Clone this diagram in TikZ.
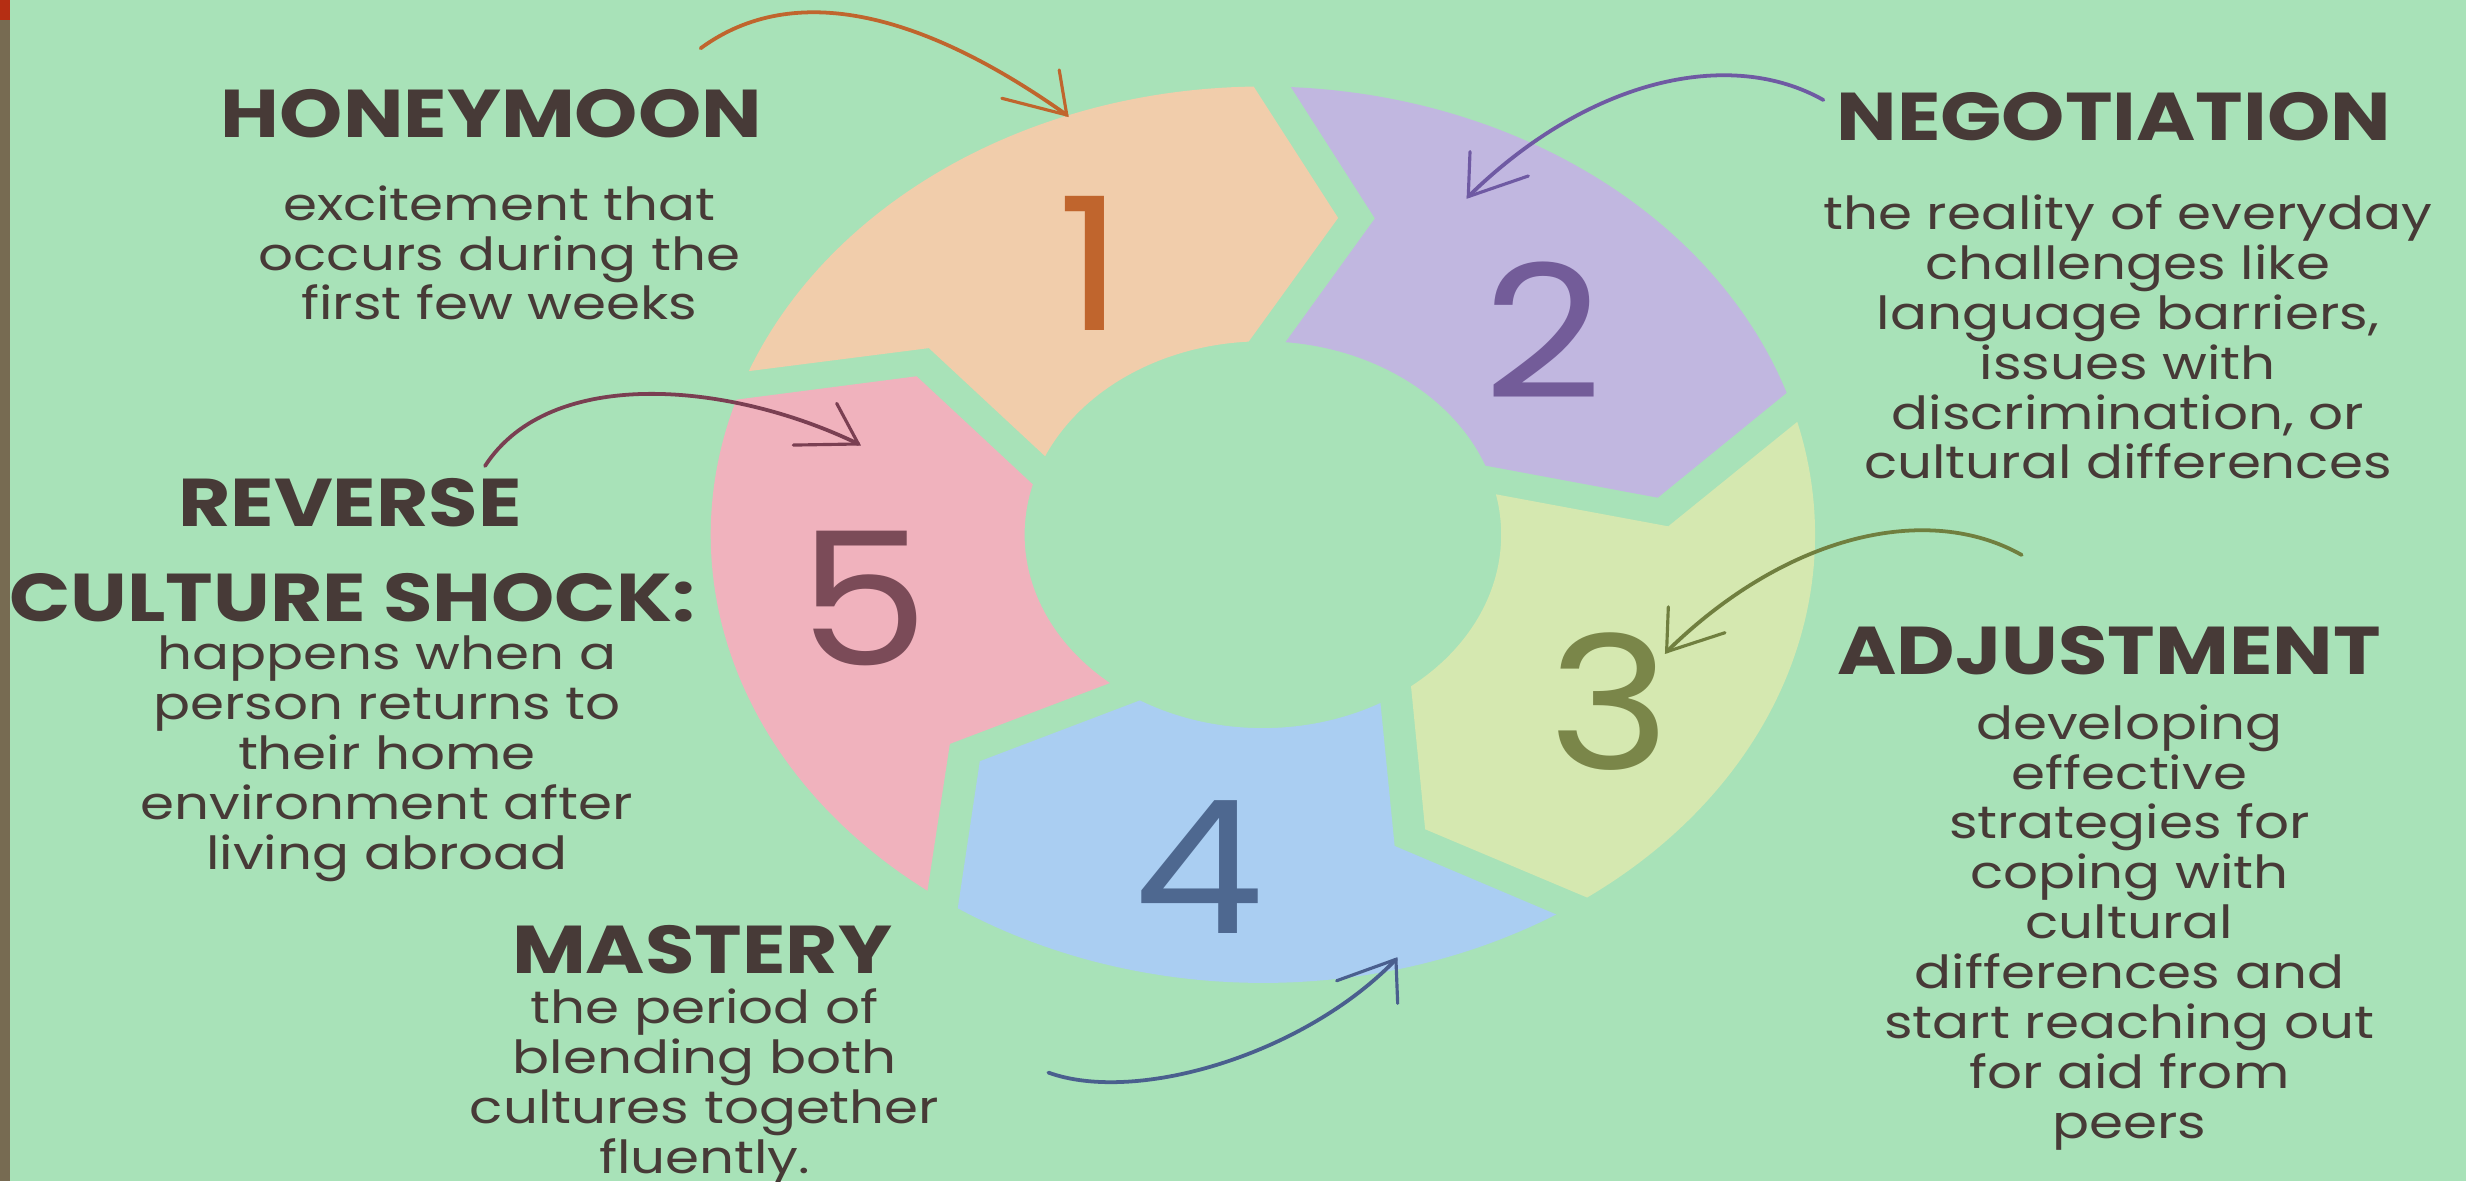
\documentclass[tikz,border=0pt]{standalone}
\usepackage{fontspec}
\newfontfamily\ffont{Poppins}[FakeStretch=1.12]
\newfontfamily\hfont{Poppins}[FakeStretch=1.19]
\newfontfamily\bfont{Poppins}[FakeStretch=1.2]
\definecolor{bg}{HTML}{A8E2B8}
\definecolor{strip}{HTML}{776B52}
\definecolor{stripred}{HTML}{B52E13}
\definecolor{txt}{HTML}{473A37}
\definecolor{s1}{HTML}{F1CDAB}
\definecolor{s2}{HTML}{C1B7E0}
\definecolor{s3}{HTML}{D5E8B0}
\definecolor{s4}{HTML}{AACEF2}
\definecolor{s5}{HTML}{F0B2BD}
\definecolor{n1}{HTML}{C0652D}
\definecolor{n2}{HTML}{735C99}
\definecolor{n3}{HTML}{7A8649}
\definecolor{n4}{HTML}{4E6890}
\definecolor{n5}{HTML}{7B4B58}
\definecolor{a1}{HTML}{C0652D}
\definecolor{a2}{HTML}{6F5AA3}
\definecolor{a3}{HTML}{707F3F}
\definecolor{a4}{HTML}{4A5F8E}
\definecolor{a5}{HTML}{7A3F52}
\newcommand{\blk}[2]{\vtop{\hsize=#1pt\parindent=0pt\centering\baselineskip=31.7pt\relax #2\par}}
\newcommand{\ringseg}[3]{%
  \fill[#1] plot[domain=0:1, samples=60] ({(#2)-\AO+((#3)-(#2)+2*\AO)*\x}:\RO)
  -- ({\RM*cos((#3)-\DL)+\HG*cos((#3)+90)},{\RM*sin((#3)-\DL)+\HG*sin((#3)+90)})
  -- plot[domain=0:1, samples=40] ({(#3)+\AI+((#2)-(#3)-2*\AI)*\x}:\RI)
  -- ({\RM*cos((#2)-\DL)+\HG*cos((#2)-90)},{\RM*sin((#2)-\DL)+\HG*sin((#2)-90)})
  -- cycle;}
\begin{document}
\begin{tikzpicture}[x=1pt,y=-1pt,
  head/.style={font=\hfont\bfseries\fontsize{43}{50}\selectfont, text=txt, inner sep=0, anchor=base},
  body/.style={font=\bfont\fontsize{29}{31.7}\selectfont, text=txt, inner sep=0, anchor=base},
  num/.style={font=\ffont\fontsize{118}{120}\selectfont, inner sep=0},
  arr/.style={line width=2.4pt, line cap=round},
  barb/.style={line width=2pt, line cap=round}]
\def\RO{285}\def\RI{123}\def\RM{207}\def\HG{9.5}\def\DL{12.5}
\pgfmathsetmacro\AO{asin(\HG/\RO)}
\pgfmathsetmacro\AI{asin(\HG/\RI)}
\useasboundingbox (0,0) rectangle (1568,751);
\fill[bg] (0,0) rectangle (1568,751);
\fill[strip] (0,0) rectangle (6.4,751);
\fill[stripred] (0,0) rectangle (6.4,12.7);
\begin{scope}[shift={(803,340)}, xscale=1.232, yscale=-1]
  \ringseg{s1}{160.5}{89}
  \ringseg{s2}{89}{16.5}
  \ringseg{s3}{16.5}{-56}
  \ringseg{s4}{-56}{-125.5}
  \ringseg{s5}{234.5}{160.5}
\end{scope}
% numbers
\node[num, text=n1] (num1) at (693.5,167.5) {1};
\node[num, text=n2] (num2) at (981.5,210) {2};
\node[num, text=n3] (num3) at (1023.5,446) {3};
\node[num, text=n4] (num4) at (762.5,551.5) {4};
\node[num, text=n5] (num5) at (549,380.5) {5};
% headings
\node[head] (hhoney) at (312.5,87.3) {HONEYMOON};
\node[head] (hnego) at (1344,89.5) {NEGOTIATION};
\node[head] (hadj) at (1341,428.6) {ADJUSTMENT};
\node[head] (hrev) at (222.5,335) {REVERSE};
\node[head] (hcult) at (224,395) {CULTURE SHOCK:};
\node[head] (hmast) at (446.5,619) {MASTERY};
% bodies
\node[body] (bhoney) at (317.5,140) {\blk{560}{excitement that\\occurs during the\\first few weeks}};
\node[body] (bnego) at (1353,146) {\blk{560}{the reality of everyday\\challenges like\\language barriers,\\issues with\\discrimination, or\\cultural differences}};
\node[body] (badj) at (1354,470) {\blk{560}{developing\\effective\\strategies for\\coping with\\cultural\\differences and\\start reaching out\\for aid from\\peers}};
\node[body] (brev) at (246,426) {\blk{560}{happens when a\\person returns to\\their home\\environment after\\living abroad}};
\node[body] (bmast) at (448,651) {\blk{560}{the period of\\blending both\\cultures together\\fluently.}};
% arrows
\coordinate (a1s) at (445.5,30.7); \coordinate (a1e) at (678.3,73.1);
\coordinate (a1b) at (673.5,44.5); \coordinate (a1c) at (637,62.5);
\draw[arr, a1] (a1s) .. controls (505.5,-13.3) and (588,9) .. (a1e);
\draw[barb, a1] (a1b) -- (a1e) -- (a1c);
\coordinate (a2s) at (1159.4,63.6); \coordinate (a2e) at (933.6,125);
\coordinate (a2b) at (934.7,96.4); \coordinate (a2c) at (971.8,111.9);
\draw[arr, a2] (a2s) .. controls (1100,30) and (1010,50) .. (a2e);
\draw[barb, a2] (a2b) -- (a2e) -- (a2c);
\coordinate (a3s) at (1285.5,352.9); \coordinate (a3e) at (1059.7,414.4);
\coordinate (a3b) at (1060.8,385.8); \coordinate (a3c) at (1096.8,402.3);
\draw[arr, a3] (a3s) .. controls (1226.1,319.3) and (1136.1,339.3) .. (a3e);
\draw[barb, a3] (a3b) -- (a3e) -- (a3c);
\coordinate (a4s) at (666.6,682); \coordinate (a4e) at (887.6,610);
\coordinate (a4b) at (888.7,638); \coordinate (a4c) at (849.9,623.6);
\draw[arr, a4] (a4s) .. controls (723,702.4) and (830,670) .. (a4e);
\draw[barb, a4] (a4b) -- (a4e) -- (a4c);
\coordinate (a5s) at (308.4,296.3); \coordinate (a5e) at (545.8,282.3);
\coordinate (a5b) at (532,256.5); \coordinate (a5c) at (504.4,283);
\draw[arr, a5] (a5s) .. controls (350,232) and (465,243) .. (a5e);
\draw[barb, a5] (a5b) -- (a5e) -- (a5c);
\end{tikzpicture}
\end{document}
